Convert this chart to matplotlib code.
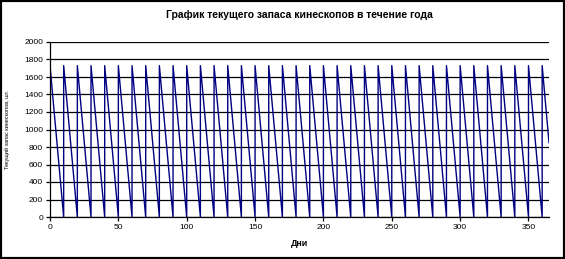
import matplotlib
matplotlib.use("Agg")
import matplotlib.pyplot as plt
from matplotlib.patches import Rectangle

plt.rcParams['font.family'] = ['Liberation Sans', 'DejaVu Sans']

# stock of kinescopes: restock every 10 days up to ~1730, used up linearly
days = [0, 10, 10, 20, 20, 30, 30, 40, 40, 50, 50, 60, 60, 70, 70, 80, 80, 90, 90,
        100, 100, 110, 110, 120, 120, 130, 130, 140, 140, 150, 150, 160, 160, 170, 170,
        180, 180, 190, 190, 200, 200, 210, 210, 220, 220, 230, 230, 240, 240, 250, 250,
        260, 260, 270, 270, 280, 280, 290, 290, 300, 300, 310, 310, 320, 320, 330, 330,
        340, 340, 350, 350, 360, 360, 365]
stock = [1730, 0, 1730, 0, 1730, 0, 1730, 0, 1730, 0, 1730, 0, 1730, 0, 1730, 0, 1730, 0, 1730,
         0, 1730, 0, 1730, 0, 1730, 0, 1730, 0, 1730, 0, 1730, 0, 1730, 0, 1730,
         0, 1730, 0, 1730, 0, 1730, 0, 1730, 0, 1730, 0, 1730, 0, 1730, 0, 1730,
         0, 1730, 0, 1730, 0, 1730, 0, 1730, 0, 1730, 0, 1730, 0, 1730, 0, 1730,
         0, 1730, 0, 1730, 0, 1730, 850]

fig = plt.figure(figsize=(5.65, 2.59), dpi=100)
ax = fig.add_axes([50/565, 1 - 217/259, 499/565, 175/259])

ax.plot(days, stock, color='#000080', linewidth=1.0)

ax.set_xlim(0, 365)
ax.set_ylim(0, 2000)
ax.set_xticks(range(0, 351, 50))
ax.set_yticks(range(0, 2001, 200))
ax.yaxis.grid(True, color='black', linewidth=0.9)
ax.set_axisbelow(True)
for s in ['top', 'right']:
    ax.spines[s].set_visible(False)
ax.spines['left'].set_linewidth(0.9)
ax.spines['bottom'].set_linewidth(0.9)
ax.tick_params(labelsize=6, length=3, width=0.9, pad=2)

ax.set_title('График текущего запаса кинескопов в течение года',
             fontsize=7.5, fontweight='bold', pad=17)
ax.set_xlabel('Дни', fontsize=6.5, fontweight='bold', labelpad=6)
ax.set_ylabel('Текущий запас кинескопов, шт.', fontsize=4, labelpad=10)

# black frame round the picture
fig.patches.append(Rectangle((0, 0), 1, 1, transform=fig.transFigure,
                             fill=False, edgecolor='black', linewidth=3))

fig.savefig('out.png', dpi=100)
